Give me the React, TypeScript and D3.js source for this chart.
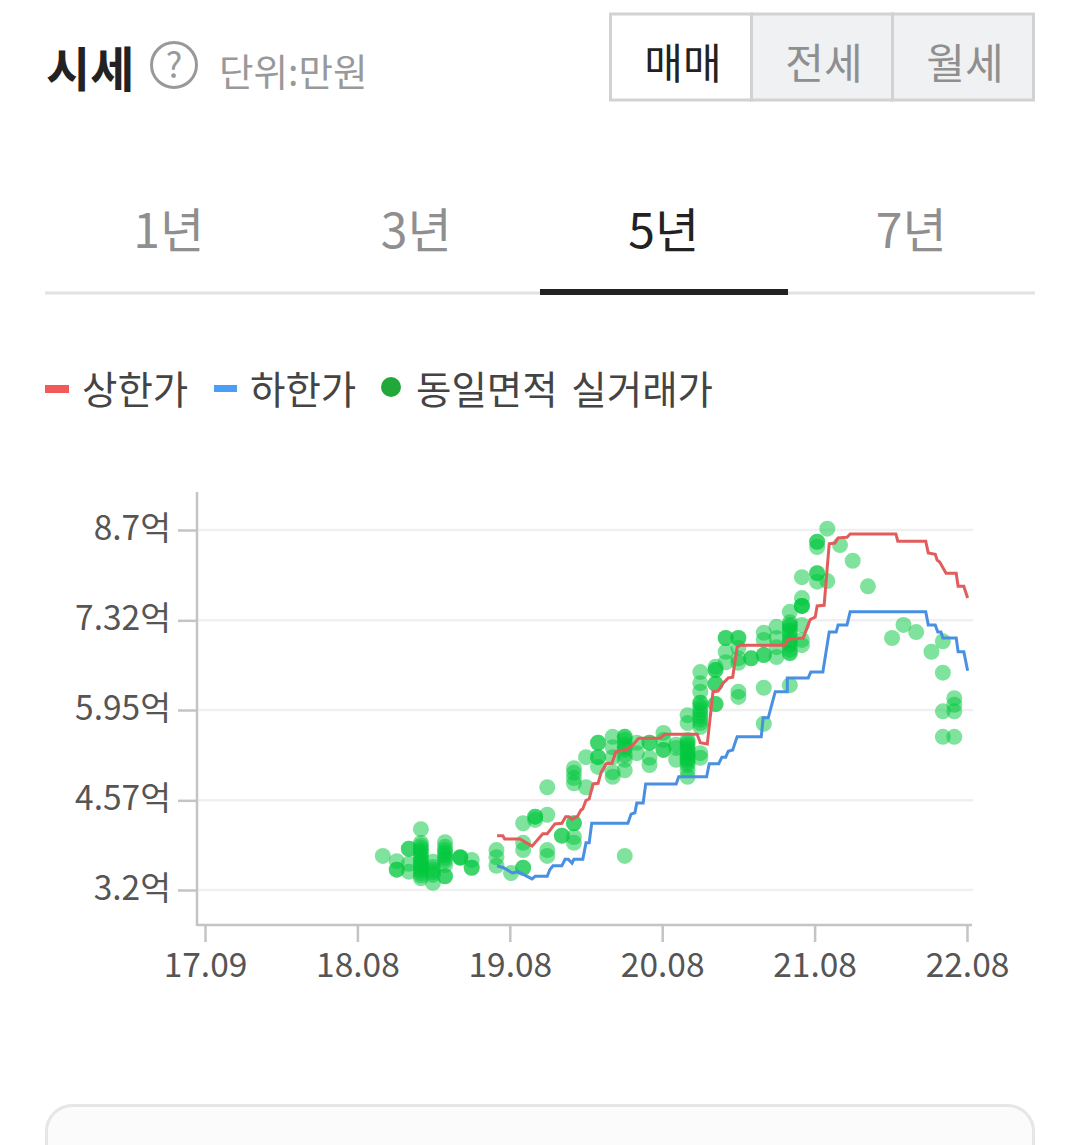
import { useEffect, useRef } from "react"
import * as d3 from "d3"

const fontFamily = '"Noto Sans CJK KR", "Noto Sans", sans-serif'

const priceTabs = ["매매", "전세", "월세"]
const periodTabs = ["1년", "3년", "5년", "7년"]
const yTicks = [3.2, 4.57, 5.95, 7.32, 8.7]
const xTickMonths = [0, 12, 24, 36, 48, 60]
const xTickLabels = ["17.09", "18.08", "19.08", "20.08", "21.08", "22.08"]

// [months since 17.09, price in 억]
const upperLimit = [
	[23, 4.03], [23.45, 4.03], [23.6, 3.98], [24.8, 3.98], [25.75, 3.87], [26.6, 4.06], [26.95, 4.06],
	[27.55, 4.21], [28.1, 4.22], [28.4, 4.32], [28.65, 4.32], [28.9, 4.28], [29.35, 4.33], [29.6, 4.42],
	[29.75, 4.44], [30, 4.57], [30.25, 4.59], [30.55, 4.82], [30.95, 4.83], [31.2, 5.0], [31.6, 5.13],
	[32.05, 5.14], [32.35, 5.31], [33.25, 5.35], [33.7, 5.42], [34.15, 5.52], [35.85, 5.52], [36.2, 5.58],
	[38.75, 5.58], [39, 5.45], [39.55, 5.43], [40, 6.23], [40.4, 6.24], [40.8, 6.36], [41.2, 6.44],
	[41.55, 6.45], [41.9, 6.91], [42.15, 6.94], [45.65, 6.94], [45.9, 7.03], [47.1, 7.05], [47.65, 7.33],
	[48.05, 7.37], [48.2, 7.54], [48.75, 7.55], [49.15, 8.49], [49.6, 8.5], [49.85, 8.58], [50.55, 8.59],
	[50.8, 8.64], [54.4, 8.64], [54.55, 8.53], [56.75, 8.53], [56.95, 8.35], [57.5, 8.33], [57.65, 8.24],
	[57.85, 8.21], [58.35, 8.04], [59.15, 8.04], [59.3, 7.84], [59.75, 7.84], [60.05, 7.66],
]

const lowerLimit = [
	[23, 3.57], [23.5, 3.54], [24.2, 3.46], [24.65, 3.48], [25.75, 3.37], [26, 3.41], [26.95, 3.41],
	[27.15, 3.51], [27.4, 3.57], [28.1, 3.57], [28.35, 3.67], [28.6, 3.67], [28.9, 3.61], [29.05, 3.67],
	[29.75, 3.67], [30, 3.92], [30.25, 3.92], [30.45, 4.22], [33.3, 4.22], [33.55, 4.36], [33.85, 4.38],
	[34, 4.53], [34.5, 4.53], [34.7, 4.82], [37.1, 4.82], [37.3, 4.93], [39.5, 4.93], [39.7, 5.13],
	[40.45, 5.13], [40.7, 5.23], [41, 5.23], [41.2, 5.32], [41.55, 5.34], [41.9, 5.54], [43.8, 5.54],
	[43.95, 5.83], [44.35, 5.83], [44.9, 6.23], [45.85, 6.23], [45.85, 6.44], [47.5, 6.44], [47.7, 6.53],
	[48.65, 6.53], [49.15, 7.14], [49.7, 7.14], [49.85, 7.25], [50.55, 7.25], [50.8, 7.45], [56.75, 7.45],
	[56.95, 7.25], [57.5, 7.25], [57.7, 7.14], [57.95, 7.14], [58.1, 7.05], [59.15, 7.05], [59.3, 6.84],
	[59.75, 6.84], [60.05, 6.55],
]

const dealMonths = [
	14, 15.1, 16.05, 17, 17.95, 18.9, 20.1, 21, 22.95, 24.1, 25.05, 26, 26.95, 28.1, 29.05, 30, 30.95, 32.1,
	33.05, 34, 35, 36.1, 37.1, 38, 39, 40.2, 41, 42, 43, 44, 45, 46.05, 47, 48.2, 49, 50, 51, 52.2, 54.1, 55,
	56, 57.2, 58.1, 59,
]

const dealPrices = [
	[3.72],
	[3.64, 3.51, 3.51],
	[3.83, 3.83, 3.6, 3.48],
	[4.13, 3.92, 3.88, 3.84, 3.8, 3.77, 3.73, 3.69, 3.65, 3.61, 3.58, 3.54, 3.5, 3.46, 3.42, 3.38],
	[3.63, 3.55, 3.51, 3.47, 3.43, 3.31],
	[3.93, 3.86, 3.81, 3.77, 3.73, 3.69, 3.65, 3.58, 3.41, 3.41],
	[3.7, 3.7, 3.69],
	[3.66, 3.54, 3.54],
	[3.81, 3.7, 3.57],
	[3.46],
	[4.22, 3.92, 3.81, 3.54, 3.54],
	[4.32, 4.32, 4.27],
	[4.35, 4.77, 3.81, 3.72],
	[4.03, 4.03],
	[4.22, 4.22, 4.01, 3.92, 5.06, 4.99, 4.91, 4.83],
	[4.77, 5.23],
	[5.45, 5.45, 5.23, 5.23, 5.08],
	[5.54, 5.38, 5.23, 5.0, 4.93],
	[5.54, 5.54, 5.49, 5.42, 5.38, 5.34, 5.26, 5.19, 5.03, 3.72],
	[5.29, 5.45],
	[5.45, 5.45, 5.22, 5.11],
	[5.6, 5.49, 5.34, 5.34],
	[5.42, 5.37, 5.19],
	[5.87, 5.75, 5.49, 5.46, 5.42, 5.38, 5.34, 5.3, 5.26, 5.22, 5.19, 5.15, 5.11, 5.03, 4.93],
	[6.53, 6.36, 6.23, 6.06, 6.06, 6.0, 5.95, 5.9, 5.85, 5.8, 5.75, 5.69, 5.29, 5.22],
	[6.61, 6.56, 6.56, 6.35, 6.35, 6.04, 6.04],
	[7.05, 7.05, 6.84, 6.68],
	[7.05, 7.05, 6.9, 6.74, 6.67, 6.23, 6.15],
	[6.74, 6.74],
	[7.13, 7.02, 6.79, 6.79, 6.29, 5.74],
	[7.22, 7.05, 6.91, 6.76],
	[7.45, 7.29, 7.25, 7.22, 7.17, 7.13, 7.08, 7.02, 6.98, 6.94, 6.87, 6.82, 6.82, 6.33],
	[7.98, 7.66, 7.54, 7.54, 7.54, 7.25, 7.02, 6.94],
	[8.52, 8.52, 8.44, 8.04, 8.04, 7.91],
	[8.72, 7.92],
	[8.47],
	[8.23],
	[7.84],
	[7.05],
	[7.25],
	[7.14],
	[6.84],
	[7.0, 6.52, 5.93, 5.54],
	[6.13, 6.03, 5.93, 5.54],
]

const App = () => {
	const svgRef = useRef(null)

	useEffect(() => {
		const svg = d3.select(svgRef.current)
		svg.selectAll("*").remove()
		svg.style("font-family", fontFamily)

		// header
		svg.append("text").attr("x", 46).attr("y", 87).attr("font-size", 48).attr("font-weight", 700).attr("fill", "#222").text("시세")
		svg.append("circle").attr("cx", 174).attr("cy", 65).attr("r", 22.5).attr("fill", "none").attr("stroke", "#999").attr("stroke-width", 3)
		svg.append("text").attr("x", 174).attr("y", 78).attr("text-anchor", "middle").attr("font-size", 35).attr("fill", "#999").text("?")
		svg.append("text").attr("x", 219).attr("y", 86).attr("font-size", 37.5).attr("fill", "#999").text("단위:만원")

		// 매매 / 전세 / 월세 buttons
		const tabX = d3.scaleBand().domain(priceTabs).range([610.5, 1033.5])
		const tabs = svg.selectAll("g.tab").data(priceTabs).enter().append("g").attr("class", "tab")
		tabs.append("rect")
			.attr("x", d => tabX(d))
			.attr("y", 14)
			.attr("width", tabX.bandwidth())
			.attr("height", 86)
			.attr("fill", (d, i) => (i === 0 ? "#fff" : "#f0f1f3"))
			.attr("stroke", "#d2d2d2")
			.attr("stroke-width", 3)
		tabs.append("text")
			.attr("x", d => tabX(d) + tabX.bandwidth() / 2 + 2)
			.attr("y", 79)
			.attr("text-anchor", "middle")
			.attr("font-size", 42)
			.attr("fill", (d, i) => (i === 0 ? "#222" : "#8f8f8f"))
			.text(d => d)

		// period tabs
		const periodX = d3.scaleBand().domain(periodTabs).range([45, 1035])
		svg.append("rect").attr("x", 45).attr("y", 291.5).attr("width", 990).attr("height", 3).attr("fill", "#e2e2e2")
		svg.selectAll("text.period").data(periodTabs).enter().append("text")
			.attr("class", "period")
			.attr("x", d => periodX(d) + periodX.bandwidth() / 2)
			.attr("y", 248)
			.attr("text-anchor", "middle")
			.attr("font-size", 48)
			.attr("fill", d => (d === "5년" ? "#222" : "#8f8f8f"))
			.text(d => d)
		svg.append("rect").attr("x", periodX("5년")).attr("y", 289).attr("width", periodX.bandwidth() + 0.5).attr("height", 6).attr("fill", "#222")

		// legend
		svg.append("rect").attr("x", 45).attr("y", 385).attr("width", 24).attr("height", 8).attr("fill", "#f25a5a")
		svg.append("text").attr("x", 82).attr("y", 404).attr("font-size", 38.5).attr("fill", "#444").text("상한가")
		svg.append("rect").attr("x", 214).attr("y", 385).attr("width", 23).attr("height", 7).attr("fill", "#4a9ef5")
		svg.append("text").attr("x", 250).attr("y", 404).attr("font-size", 38.5).attr("fill", "#444").text("하한가")
		svg.append("circle").attr("cx", 391).attr("cy", 387).attr("r", 10).attr("fill", "#22a83a")
		svg.append("text").attr("x", 416).attr("y", 404).attr("font-size", 38.5).attr("word-spacing", 5).attr("fill", "#444").text("동일면적 실거래가")

		// scales
		const x = d3.scaleLinear().domain([0, 60]).range([205, 967])
		const y = d3.scaleLinear().domain([3.2, 8.7]).range([890, 530])

		// gridlines
		svg.selectAll("line.grid").data(yTicks).enter().append("line")
			.attr("class", "grid")
			.attr("x1", 197)
			.attr("x2", 973)
			.attr("y1", d => y(d))
			.attr("y2", d => y(d))
			.attr("stroke", "#f0f0f0")
			.attr("stroke-width", 2.5)

		// axes
		const yAxis = svg.append("g")
			.attr("transform", "translate(197,0)")
			.call(d3.axisLeft(y).tickValues(yTicks).tickSize(19).tickPadding(7).tickFormat(d => d + "억"))
		const xAxis = svg.append("g")
			.attr("transform", "translate(0,925)")
			.call(d3.axisBottom(x).tickValues(xTickMonths).tickSize(17).tickPadding(11).tickFormat((d, i) => xTickLabels[i]))
		for (const axis of [yAxis, xAxis]) {
			axis.attr("font-family", fontFamily).attr("font-size", 33.5)
			axis.selectAll("text").attr("fill", "#555")
			axis.selectAll("line").attr("stroke", "#c4c4c4").attr("stroke-width", 2.5)
			axis.select(".domain").remove()
		}
		yAxis.selectAll("text").attr("transform", "translate(0,-1.5)")
		svg.append("line").attr("x1", 197).attr("x2", 197).attr("y1", 492).attr("y2", 926).attr("stroke", "#c4c4c4").attr("stroke-width", 2.5)
		svg.append("line").attr("x1", 197).attr("x2", 972).attr("y1", 925).attr("y2", 925).attr("stroke", "#c4c4c4").attr("stroke-width", 2.5)

		// dots
		const deals = dealMonths.flatMap((month, i) => dealPrices[i].map(price => ({ month, price })))
		svg.append("g").selectAll("circle").data(deals).enter().append("circle")
			.attr("cx", d => x(d.month))
			.attr("cy", d => y(d.price))
			.attr("r", 8)
			.attr("fill", "#00c73c")
			.attr("fill-opacity", 0.5)

		// lines
		const line = d3.line().x(d => x(d[0])).y(d => y(d[1]))
		svg.append("path").attr("d", line(lowerLimit)).attr("fill", "none").attr("stroke", "#4a90e2").attr("stroke-width", 3)
		svg.append("path").attr("d", line(upperLimit)).attr("fill", "none").attr("stroke", "#e25c5c").attr("stroke-width", 3)

		// card below the chart, runs off the page
		svg.append("rect").attr("x", 46.5).attr("y", 1105.5).attr("width", 987).attr("height", 120).attr("rx", 26).attr("fill", "#fbfbfb").attr("stroke", "#e6e6e6").attr("stroke-width", 3)
	}, [])

	return <svg ref={svgRef} width={1080} height={1145} style={{ position: "absolute", left: 0, top: 0, display: "block" }}></svg>
}

export default App
